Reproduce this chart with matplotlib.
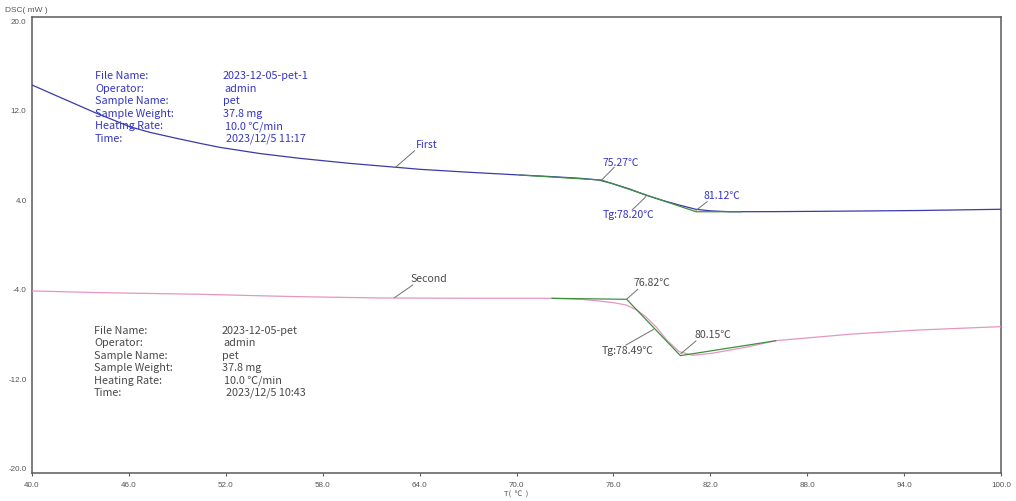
import matplotlib
matplotlib.use("Agg")
import matplotlib.pyplot as plt

# ---------------- data ----------------
first_T = [40.0, 41.11, 42.35, 44.0, 45.13, 46.06, 47.30, 48.84, 50.39, 51.63, 54.10, 56.57,
           59.67, 62.55, 64.0, 67.0, 70.2, 72.0, 74.0, 75.1, 75.9, 77.0, 78.0, 79.0, 80.07,
           81.1, 82.0, 83.2, 86.0, 90.0, 94.9, 100.0]
first_V = [14.29, 13.58, 12.80, 11.76, 11.11, 10.56, 10.06, 9.56, 9.08, 8.72, 8.17, 7.74,
           7.29, 6.94, 6.76, 6.5, 6.25, 6.12, 5.95, 5.8, 5.5, 5.0, 4.46, 4.0, 3.57,
           3.19, 3.05, 2.97, 2.98, 3.02, 3.08, 3.19]

second_T = [40.0, 44.0, 50.4, 56.0, 61.5, 67.7, 72.2, 74.0, 74.9, 76.0, 76.8, 77.5, 78.0,
            78.7, 79.3, 80.07, 80.9, 82.1, 84.2, 86.07, 90.8, 94.9, 100.0]
second_V = [-4.1, -4.25, -4.4, -4.6, -4.73, -4.76, -4.76, -4.85, -4.97, -5.15, -5.36, -5.85,
            -6.4, -7.4, -8.48, -9.52, -9.85, -9.67, -9.13, -8.54, -7.95, -7.59, -7.29]

# tangent construction lines (green)
first_tan_T = [70.2, 75.27, 81.12, 83.9]
first_tan_V = [6.25, 5.80, 2.97, 2.97]
second_tan_T = [72.2, 76.82, 80.15, 86.05]
second_tan_V = [-4.76, -4.85, -9.88, -8.55]

first_onset, first_tg, first_end = 75.27, 78.20, 81.12
second_onset, second_tg, second_end = 76.82, 78.49, 80.15

info_labels = ["File Name:", "Operator:", "Sample Name:", "Sample Weight:", "Heating Rate:", "Time:"]
first_info = ["2023-12-05-pet-1", "admin", "pet", "37.8 mg", "10.0 \u2103/min", "2023/12/5 11:17"]
second_info = ["2023-12-05-pet", "admin", "pet", "37.8 mg", "10.0 \u2103/min", "2023/12/5 10:43"]

x_ticks = [40.0, 46.0, 52.0, 58.0, 64.0, 70.0, 76.0, 82.0, 88.0, 94.0, 100.0]
y_ticks = [20.0, 12.0, 4.0, -4.0, -12.0, -20.0]

# ---------------- style ----------------
FONT = ["Noto Sans CJK SC", "DejaVu Sans"]
TICKFONT = ["Liberation Sans", "DejaVu Sans"]
BLUE_LINE = "#3a3aa8"
BLUE_TEXT = "#3535c8"
PINK = "#e596c2"
GREEN = "#3f8f3f"
GRAY_TEXT = "#4a4a4a"
LEADER = "#707070"
FRAME = "#5a5a5a"

W, H = 1016, 501
fig = plt.figure(figsize=(W / 100, H / 100), dpi=100)
L, R, T, B = 32, 1001, 17, 473
ax = fig.add_axes([L / W, 1 - B / H, (R - L) / W, (B - T) / H])
ax.set_xlim(40, 100)
ax.set_ylim(-20.36, 20.36)

for s in ax.spines.values():
    s.set_color(FRAME)
    s.set_linewidth(1.1)

ax.set_xticks(x_ticks)
ax.set_xticklabels([f"{v:.1f}" for v in x_ticks], fontfamily=TICKFONT, fontsize=5.8, color="#555555")
ax.set_yticks(y_ticks)
ax.set_yticklabels([f"{v:.1f}" for v in y_ticks], fontfamily=TICKFONT, fontsize=5.8, color="#555555")
ax.tick_params(axis="x", length=2.5, width=0.8, color=FRAME, pad=4)
ax.tick_params(axis="y", length=0, pad=4)

# curves
ax.plot(first_T, first_V, color=BLUE_LINE, lw=0.9, zorder=3)
ax.plot(second_T, second_V, color=PINK, lw=0.9, zorder=3)
ax.plot(first_tan_T, first_tan_V, color=GREEN, lw=0.9, zorder=4)
ax.plot(second_tan_T, second_tan_V, color=GREEN, lw=0.9, zorder=4)

def note(text, p0, p1, tpos, color):
    ax.plot([p0[0], p1[0]], [p0[1], p1[1]], color=LEADER, lw=0.7, zorder=5)
    ax.text(tpos[0], tpos[1], text, fontfamily=FONT, fontsize=7.6, color=color,
            ha="left", va="center", zorder=6)

# first curve annotations
note("First", (62.55, 6.99), (63.69, 8.42), (63.75, 8.95), BLUE_TEXT)
note(f"{first_onset:.2f}\u2103", (first_onset, 5.80), (76.05, 6.94), (75.30, 7.35), BLUE_TEXT)
note(f"Tg:{first_tg:.2f}\u2103", (78.01, 4.31), (77.16, 3.13), (75.35, 2.68), BLUE_TEXT)
note(f"{first_end:.2f}\u2103", (first_end, 3.10), (81.81, 3.87), (81.60, 4.42), BLUE_TEXT)

# second curve annotations
note("Second", (62.45, -4.70), (63.58, -3.57), (63.45, -3.02), GRAY_TEXT)
note(f"{second_onset:.2f}\u2103", (second_onset, -4.85), (77.50, -3.96), (77.25, -3.37), GRAY_TEXT)
note(f"Tg:{second_tg:.2f}\u2103", (second_tg, -7.53), (76.78, -8.93), (75.30, -9.42), GRAY_TEXT)
note(f"{second_end:.2f}\u2103", (80.18, -9.70), (81.11, -8.57), (81.00, -8.08), GRAY_TEXT)

# info blocks (pixel-based placement in axes fraction)
def px2ax(x, y):
    return (x - L) / (R - L), 1 - (y - T) / (B - T)

first_val_x = [223, 224, 223, 223, 225, 226]
second_val_x = [222, 223, 222, 222, 224, 226]
for i, (lab, val) in enumerate(zip(info_labels, first_info)):
    y = 76 + i * 12.6
    ax.text(*px2ax(95, y), lab, transform=ax.transAxes, fontfamily=FONT, fontsize=7.8,
            color=BLUE_TEXT, ha="left", va="center")
    ax.text(*px2ax(first_val_x[i], y), val, transform=ax.transAxes, fontfamily=FONT, fontsize=7.8,
            color=BLUE_TEXT, ha="left", va="center")
for i, (lab, val) in enumerate(zip(info_labels, second_info)):
    y = 331 + i * 12.4
    ax.text(*px2ax(94, y), lab, transform=ax.transAxes, fontfamily=FONT, fontsize=7.8,
            color=GRAY_TEXT, ha="left", va="center")
    ax.text(*px2ax(second_val_x[i], y), val, transform=ax.transAxes, fontfamily=FONT, fontsize=7.8,
            color=GRAY_TEXT, ha="left", va="center")

# axis titles
fig.text(5 / W, 1 - 10 / H, "DSC( mW )", fontfamily=TICKFONT, fontsize=6.0, color="#555555",
         ha="left", va="center")
fig.text(516 / W, 1 - 494.5 / H, "T(  \u2103  )", fontfamily=FONT, fontsize=5.5, color="#555555",
         ha="center", va="center")

fig.savefig("out.png", dpi=100, facecolor="white")
